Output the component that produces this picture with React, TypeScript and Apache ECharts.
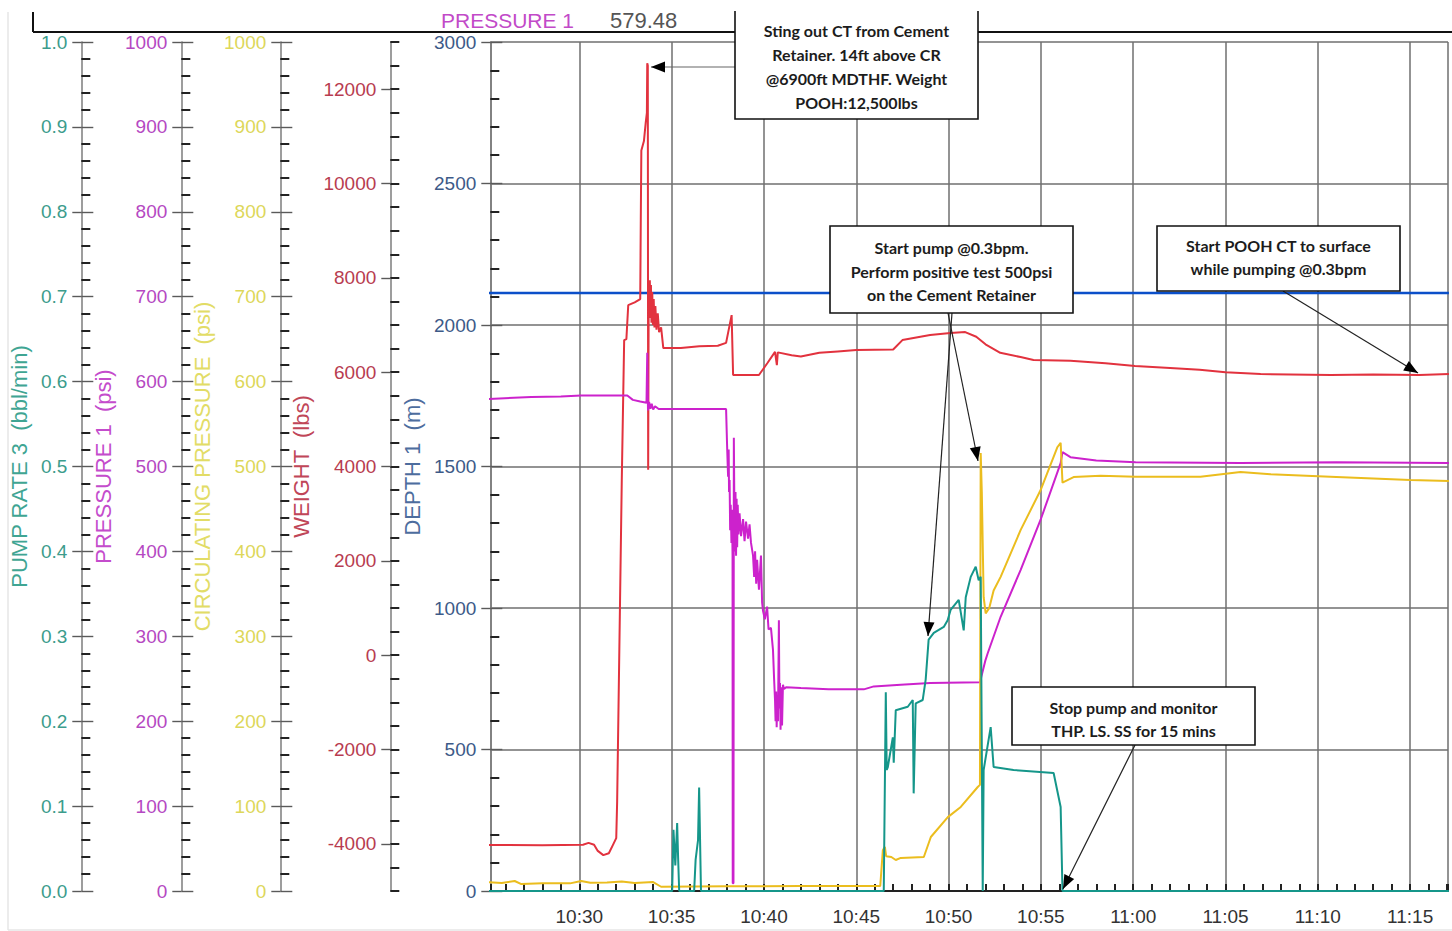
import React, { useEffect, useRef } from 'react';
import * as echarts from 'echarts';

// Time is expressed in minutes after 10:00 (the plot starts just after 10:25).
const TIME_MIN = 25.18;
const TIME_MAX = 77.05;

// DEPTH 1 (m)
const depthM: [number, number][] = [
  [25.0, 2113], [77.1, 2113],
];

// WEIGHT (lbs)
const weightLbs: [number, number][] = [
  [25.0, -4025], [28.0, -4030], [30.2, -4020], [30.5, -3980], [30.8, -4020], [31.0, -4150],
  [31.3, -4240], [31.6, -4200], [31.85, -4000], [32.0, -3880], [32.05, -3100], [32.3, 3700],
  [32.43, 6680], [32.55, 6700], [32.65, 7420], [33.0, 7480], [33.3, 7550], [33.33, 9230],
  [33.36, 10700], [33.5, 10900], [33.6, 11300], [33.66, 11500], [33.68, 12550], [33.71, 12500],
  [33.73, 3930], [33.76, 7900], [33.79, 7300], [33.82, 7950], [33.85, 7150], [33.88, 7850],
  [33.91, 7050], [33.95, 7700], [33.99, 7000], [34.03, 7550], [34.07, 6950], [34.12, 7400],
  [34.18, 6900], [34.25, 7250], [34.32, 6850], [34.43, 6950], [34.55, 6510], [35.5, 6510],
  [36.5, 6550], [37.5, 6560], [37.95, 6620], [38.25, 7210], [38.33, 5940], [39.73, 5940],
  [40.2, 6200], [40.6, 6430], [40.7, 6150], [40.75, 6420], [41.5, 6360], [42.0, 6330],
  [43.0, 6410], [44.0, 6440], [45.0, 6470], [47.0, 6480], [47.5, 6680], [49.0, 6790],
  [50.1, 6830], [50.9, 6850], [51.5, 6750], [52.0, 6590], [52.8, 6410], [53.9, 6320],
  [54.6, 6260], [56.6, 6240], [58.5, 6190], [60.1, 6130], [62.0, 6090], [63.6, 6050],
  [65.0, 6000], [66.9, 5960], [70.7, 5940], [73.0, 5950], [75.5, 5940], [77.1, 5960],
];

// PRESSURE 1 (psi)
const pressurePsi: [number, number][] = [
  [25.0, 579.5], [27.4, 581.9], [29.0, 582.5], [30.1, 583.5], [32.6, 583.6], [32.9, 578.5],
  [33.3, 576.5], [33.64, 575], [33.68, 634], [33.72, 566], [33.78, 576], [33.85, 568],
  [33.92, 574], [34.0, 567], [34.1, 571], [34.3, 567.7], [37.95, 567.7], [38.0, 528],
  [38.04, 500], [38.06, 488], [38.09, 520], [38.11, 470], [38.14, 484], [38.17, 425],
  [38.2, 455], [38.24, 410], [38.27, 449], [38.3, 395], [38.31, 9], [38.35, 9],
  [38.37, 534], [38.4, 450], [38.43, 400], [38.46, 470], [38.49, 395], [38.52, 462],
  [38.55, 405], [38.58, 455], [38.62, 420], [38.68, 445], [38.76, 418], [38.87, 438],
  [38.95, 412], [39.03, 435], [39.14, 415], [39.22, 432], [39.3, 410], [39.41, 395],
  [39.47, 370], [39.52, 400], [39.58, 362], [39.63, 390], [39.73, 355], [39.84, 395],
  [39.9, 340], [39.95, 330], [40.05, 320], [40.17, 335], [40.25, 308], [40.38, 310],
  [40.49, 284], [40.55, 250], [40.6, 225], [40.63, 200], [40.66, 235], [40.69, 193],
  [40.72, 230], [40.76, 200], [40.81, 319], [40.84, 215], [40.87, 245], [40.9, 190],
  [40.94, 240], [40.98, 195], [41.03, 243], [41.09, 238], [41.2, 240], [42.0, 239],
  [43.5, 237.5], [45.41, 237.5], [45.95, 241], [47.41, 243], [49.0, 245], [51.7, 246],
  [52.0, 272], [52.12, 280], [52.82, 323], [53.9, 378], [54.98, 437], [56.07, 504],
  [56.17, 517], [56.6, 511], [58.0, 507], [60.13, 505], [65.8, 504], [71.0, 505],
  [77.1, 504],
];

// CIRCULATING PRESSURE (psi)
const circPsi: [number, number][] = [
  [25.0, 10.6], [25.8, 9.5], [26.5, 11.8], [26.86, 8.2], [28.0, 9.2], [29.5, 9.0],
  [30.1, 11.8], [30.6, 9.6], [31.5, 10.0], [32.3, 11.2], [33.0, 9.4], [34.0, 10.5],
  [34.43, 5.0], [38.0, 5.5], [42.0, 5.9], [46.3, 5.9], [46.44, 48], [46.55, 52],
  [46.62, 41], [46.9, 40], [47.14, 36.5], [47.41, 39], [48.66, 40], [49.04, 63.6],
  [49.96, 87], [50.66, 99], [51.58, 122.5], [51.7, 125], [51.74, 516], [51.8, 470],
  [51.9, 346], [52.01, 327], [52.2, 333], [52.44, 354], [52.82, 370], [53.9, 425],
  [54.98, 472], [55.9, 523], [56.07, 528], [56.17, 481], [56.77, 487.6], [58.23, 489],
  [60.13, 488], [63.64, 488], [65.81, 493.5], [67.43, 491], [70.67, 488], [75.0, 484],
  [77.1, 483],
];

// PUMP RATE 3 (bbl/min)
const pumpRate: [number, number][] = [
  [25.0, 0], [35.03, 0], [35.1, 0.072], [35.2, 0.03], [35.3, 0.08], [35.35, 0.04],
  [35.41, 0], [36.22, 0], [36.3, 0.037], [36.43, 0.06], [36.49, 0.122], [36.59, 0],
  [46.49, 0], [46.6, 0.234], [46.65, 0.1425], [46.71, 0.146], [46.98, 0.181], [47.03, 0.151],
  [47.14, 0.213], [47.79, 0.217], [48.06, 0.225], [48.11, 0.115], [48.22, 0.221], [48.6, 0.225],
  [48.76, 0.249], [48.92, 0.296], [49.2, 0.304], [49.74, 0.311], [49.95, 0.319], [50.11, 0.331],
  [50.55, 0.343], [50.82, 0.307], [50.93, 0.346], [51.2, 0.37], [51.47, 0.382], [51.63, 0.366],
  [51.74, 0.37], [51.85, 0], [51.9, 0.1425], [52.28, 0.193], [52.44, 0.146], [53.52, 0.1425],
  [55.69, 0.139], [56.07, 0.099], [56.17, 0], [77.1, 0],
];

const WEIGHT_LABELS = [-4000, -2000, 0, 2000, 4000, 6000, 8000, 10000, 12000];

const HEADER_NAME = 'PRESSURE 1';
const HEADER_VALUE = '579.48';

const NOTES = [
  { lines: ['Sting out CT from Cement', 'Retainer. 14ft above CR', '@6900ft MDTHF. Weight', 'POOH:12,500lbs'] },
  { lines: ['Start pump @0.3bpm.', 'Perform positive test 500psi', 'on the Cement Retainer'] },
  { lines: ['Start POOH CT to surface', 'while pumping @0.3bpm'] },
  { lines: ['Stop pump and monitor', 'THP. LS. SS for 15 mins'] },
];

const FONT = "'Liberation Sans', Arial, sans-serif";
const NOTE_FONT = "Lato, 'Open Sans', sans-serif";
const GRID_LEFT = 489;
const GRID_TOP = 42;
const GRID_RIGHT = 4;
const GRID_BOTTOM = 40;

const TICK_MAJOR = { color: '#5a5a5a', width: 1.4 };
const TICK_MINOR = { color: '#222', width: 2 };

type AxisDef = {
  name: string;
  offset: number;
  min: number;
  max: number;
  interval: number;
  minorSplit: number;
  color: string;
  nameColor: string;
  nameGap: number;
  fmt: (v: number) => string;
  grid?: boolean;
  weight?: boolean;
};

const AXES: AxisDef[] = [
  {
    name: 'DEPTH 1  (m)', offset: 0, min: 0, max: 3000, interval: 500, minorSplit: 5,
    color: '#3d5a88', nameColor: '#4d6d9e', nameGap: 62, fmt: (v) => String(v), grid: true,
  },
  {
    name: 'WEIGHT  (lbs)', offset: 100, min: -5000, max: 13000, interval: 500, minorSplit: 0,
    color: '#b83c50', nameColor: '#c04658', nameGap: 70, weight: true,
    fmt: (v) => (Math.abs(v) % 2000 === 0 && v >= -4000 && v <= 12000 ? String(v) : ''),
  },
  {
    name: 'CIRCULATING PRESSURE  (psi)', offset: 210, min: 0, max: 1000, interval: 100, minorSplit: 5,
    color: '#ddd75a', nameColor: '#e2dc66', nameGap: 60, fmt: (v) => String(v),
  },
  {
    name: 'PRESSURE 1  (psi)', offset: 309, min: 0, max: 1000, interval: 100, minorSplit: 5,
    color: '#b548c2', nameColor: '#c44ccc', nameGap: 63, fmt: (v) => String(v),
  },
  {
    name: 'PUMP RATE 3  (bbl/min)', offset: 409, min: 0, max: 1, interval: 0.1, minorSplit: 5,
    color: '#3c9c8c', nameColor: '#3fa593', nameGap: 41, fmt: (v) => v.toFixed(1),
  },
];

function mainAxis(a: AxisDef) {
  return {
    type: 'value',
    position: 'left',
    offset: a.offset,
    min: a.min,
    max: a.max,
    interval: a.interval,
    name: a.name,
    nameLocation: 'middle',
    nameRotate: 90,
    nameGap: a.nameGap,
    nameTextStyle: { color: a.nameColor, fontSize: 22, fontFamily: FONT },
    axisLine: { show: true, onZero: false, lineStyle: { color: '#7d7d7d', width: 1.5 } },
    axisTick: {
      show: true,
      inside: true,
      length: a.weight ? 9 : 12,
      lineStyle: a.weight ? TICK_MINOR : TICK_MAJOR,
    },
    minorTick: {
      show: a.minorSplit > 0,
      splitNumber: a.minorSplit || 5,
      length: 9,
      lineStyle: TICK_MINOR,
    },
    axisLabel: {
      color: a.color,
      fontSize: 19,
      fontFamily: FONT,
      margin: 14,
      formatter: a.fmt,
    },
    splitLine: {
      show: !!a.grid,
      lineStyle: { color: '#6f6f6f', width: 1.5 },
    },
  };
}

// Second axis on the same line, carrying only the outward half of the major ticks.
function outerTickAxis(a: AxisDef) {
  const tick: any = {
    show: true,
    inside: false,
    length: 9,
    lineStyle: TICK_MAJOR,
  };
  if (a.weight) tick.customValues = WEIGHT_LABELS;
  return {
    type: 'value',
    position: 'left',
    offset: a.offset,
    min: a.min,
    max: a.max,
    interval: a.weight ? 1000 : a.interval,
    axisLine: { show: false, onZero: false },
    axisTick: tick,
    axisLabel: { show: false },
    splitLine: { show: false },
  };
}

function clock(m: number) {
  const total = Math.round(m);
  const h = 10 + Math.floor(total / 60);
  const mm = total % 60;
  return `${h}:${mm < 10 ? '0' : ''}${mm}`;
}

function arrowHead(x1: number, y1: number, x2: number, y2: number, len = 14, half = 5.5) {
  const dx = x2 - x1;
  const dy = y2 - y1;
  const d = Math.hypot(dx, dy);
  const ux = dx / d;
  const uy = dy / d;
  const bx = x2 - ux * len;
  const by = y2 - uy * len;
  return [
    [x2, y2],
    [bx - uy * half, by + ux * half],
    [bx + uy * half, by - ux * half],
  ];
}

function arrow(x1: number, y1: number, x2: number, y2: number, stroke = '#222') {
  return [
    { type: 'line', shape: { x1, y1, x2, y2 }, style: { stroke, lineWidth: 1.2 } },
    { type: 'polygon', shape: { points: arrowHead(x1, y1, x2, y2) }, style: { fill: '#000' } },
  ];
}

function noteBox(x: number, y: number, w: number, h: number, cy: number, lines: string[]) {
  return [
    { type: 'rect', shape: { x, y, width: w, height: h }, style: { fill: '#fff', stroke: '#111', lineWidth: 1.6 } },
    {
      type: 'text',
      x: x + w / 2,
      y: cy,
      style: {
        text: lines.join('\n'),
        fill: '#1c1c1c',
        fontFamily: NOTE_FONT,
        fontWeight: 'bold',
        fontSize: 16,
        lineHeight: 23.7,
        align: 'center',
        verticalAlign: 'middle',
        textAlign: 'center',
        textVerticalAlign: 'middle',
      },
    },
  ];
}

function buildGraphics() {
  const els: any[] = [
    { type: 'line', shape: { x1: 8, y1: 12, x2: 8, y2: 930 }, style: { stroke: '#e6e6e6', lineWidth: 1.5 } },
    { type: 'line', shape: { x1: 8, y1: 930, x2: 1452, y2: 930 }, style: { stroke: '#e6e6e6', lineWidth: 1.5 } },
    { type: 'line', shape: { x1: 33, y1: 12, x2: 33, y2: 32 }, style: { stroke: '#111', lineWidth: 2 } },
    { type: 'line', shape: { x1: 33, y1: 32, x2: 1452, y2: 32 }, style: { stroke: '#111', lineWidth: 2 } },
    {
      type: 'text', x: 441, y: 20,
      style: { text: HEADER_NAME, fill: '#c24ac8', fontFamily: FONT, fontSize: 21, verticalAlign: 'middle', textVerticalAlign: 'middle' },
    },
    {
      type: 'text', x: 610, y: 20,
      style: { text: HEADER_VALUE, fill: '#555', fontFamily: FONT, fontSize: 22, verticalAlign: 'middle', textVerticalAlign: 'middle' },
    },
    ...arrow(735, 67, 651, 67, '#666'),
    ...arrow(952, 313, 928, 636),
    ...arrow(948, 313, 978, 461),
    ...arrow(1283, 291, 1418, 373),
    ...arrow(1135, 745, 1063, 889),
    ...noteBox(735, 4, 243, 115, 66.5, NOTES[0].lines),
    ...noteBox(830, 226, 243, 87, 271, NOTES[1].lines),
    ...noteBox(1157, 226, 243, 65, 257, NOTES[2].lines),
    ...noteBox(1012, 687, 243, 58, 719, NOTES[3].lines),
    { type: 'rect', shape: { x: 0, y: 0, width: 1452, height: 11 }, style: { fill: '#fff' } },
  ];
  return els.map((e) => ({ ...e, z: 100 }));
}

function lineSeries(name: string, data: [number, number][], yAxisIndex: number, color: string, width = 2) {
  return {
    name,
    type: 'line',
    data,
    yAxisIndex,
    showSymbol: false,
    symbol: 'none',
    lineStyle: { color, width },
    emphasis: { disabled: true },
  };
}

function buildOption() {
  return {
    animation: false,
    backgroundColor: '#fff',
    grid: { left: GRID_LEFT, top: GRID_TOP, right: GRID_RIGHT, bottom: GRID_BOTTOM, containLabel: false },
    xAxis: [
      {
        // five-minute steps: labels and vertical grid lines
        type: 'value',
        position: 'bottom',
        min: TIME_MIN,
        max: TIME_MAX,
        splitNumber: 10,
        axisLine: { show: true, onZero: false, lineStyle: { color: '#222', width: 2 } },
        axisTick: { show: true, inside: true, length: 7, lineStyle: { color: '#222', width: 2 } },
        axisLabel: {
          color: '#333', fontSize: 19, fontFamily: FONT, margin: 16,
          showMinLabel: false, showMaxLabel: false, formatter: clock,
        },
        splitLine: { show: true, lineStyle: { color: '#6f6f6f', width: 1.5 } },
      },
      {
        // one-minute ticks
        type: 'value',
        position: 'bottom',
        offset: 0,
        min: TIME_MIN,
        max: TIME_MAX,
        splitNumber: 52,
        axisLine: { show: false, onZero: false },
        axisTick: { show: true, inside: true, length: 7, lineStyle: { color: '#222', width: 2 } },
        axisLabel: { show: false },
        splitLine: { show: false },
      },
    ],
    yAxis: [...AXES.map(mainAxis), ...AXES.map(outerTickAxis)],
    series: [
      lineSeries('DEPTH 1', depthM, 0, '#0b4fc9', 2.5),
      lineSeries('WEIGHT', weightLbs, 1, '#e2323e'),
      lineSeries('PRESSURE 1', pressurePsi, 3, '#cc22cc'),
      lineSeries('CIRCULATING PRESSURE', circPsi, 2, '#ebbd1e'),
      lineSeries('PUMP RATE 3', pumpRate, 4, '#15968a'),
    ],
    graphic: buildGraphics(),
  };
}

export default function App() {
  const ref = useRef<HTMLDivElement>(null);
  useEffect(() => {
    if (!ref.current) return;
    const chart = echarts.init(ref.current, null, { renderer: 'svg' });
    chart.setOption(buildOption() as any);
    return () => chart.dispose();
  }, []);
  return (
    <div
      ref={ref}
      style={{ position: 'fixed', left: 0, top: 0, width: 1452, height: 931, background: '#fff' }}
    />
  );
}
